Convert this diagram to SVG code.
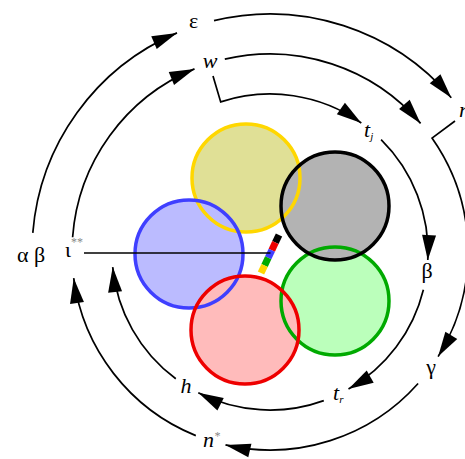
<svg xmlns="http://www.w3.org/2000/svg" width="465" height="459" viewBox="0 0 465 459">
<defs>
<marker id="ah" markerUnits="userSpaceOnUse" markerWidth="26" markerHeight="14" refX="25" refY="7" orient="auto" overflow="visible">
<path d="M0,0 L25,7 L0,14 z" fill="#000"/>
</marker>
<style>
.c{fill:none;stroke:#000;stroke-width:1.7}
.a{marker-end:url(#ah)}
.t{font-family:"Liberation Serif","DejaVu Serif",serif;font-size:22px;fill:#000}
.i{font-style:italic}
.s{font-size:11px}
.g{fill:#888;font-size:12px}
</style>
</defs>
<rect width="465" height="459" fill="#fff"/>
<g id="circles">
<g id="fills">
<circle cx="246" cy="178" r="54" fill="#e0e096"/>
<circle cx="335" cy="301" r="54" fill="#bbffbb"/>
<circle cx="189" cy="254" r="54" fill="#bbbbff"/>
<circle cx="245" cy="330" r="54" fill="#ffbbbb"/>
<circle cx="335" cy="206" r="54" fill="#b3b3b3"/>
</g>
<g id="strokes" fill="none">
<circle id="yellow" cx="246" cy="178" r="54" stroke="#ffd700" stroke-width="3.5"/>
<circle id="green" cx="335" cy="301" r="54" stroke="#00aa00" stroke-width="3.5"/>
<circle id="blue" cx="189" cy="254" r="54" stroke="#3f3fff" stroke-width="3.5"/>
<circle id="red" cx="245" cy="330" r="54" stroke="#ee0000" stroke-width="3.5"/>
<circle id="black" cx="335" cy="206" r="54" stroke="#000" stroke-width="3.5"/>
</g>
</g>
<g id="colorbar" stroke-width="7" fill="none">
<line x1="279" y1="235" x2="275.4" y2="242.6" stroke="#000"/>
<line x1="275.4" y1="242.6" x2="271.8" y2="250.2" stroke="#ee0000"/>
<line x1="271.8" y1="250.2" x2="268.2" y2="257.8" stroke="#3f3fff"/>
<line x1="268.2" y1="257.8" x2="264.6" y2="265.4" stroke="#00aa00"/>
<line x1="264.6" y1="265.4" x2="261" y2="273" stroke="#ffd700"/>
</g>
<g id="connectors">
<line class="c" x1="84" y1="253" x2="270.5" y2="253"/>
<path class="c a" d="M32.8,232.9 A238,238 0 0 1 177,32.9"/>
<path class="c a" d="M214,20.7 A238,238 0 0 1 451.3,97.8"/>
<path class="c a" d="M72.6,237.2 A198,198 0 0 1 194.5,68.9"/>
<path class="c a" d="M224.8,59.2 A198,198 0 0 1 420.6,123.4"/>
<path class="c a" d="M455,121 L432,138.1 A198,198 0 0 1 438.1,356.6"/>
<path class="c a" d="M418.1,383.5 A198,198 0 0 1 225.5,444.9"/>
<path class="c a" d="M195.8,435.6 A198,198 0 0 1 73.7,278.2"/>
<path class="c a" d="M213,76 L220.7,101.9 A158,158 0 0 1 361.3,123"/>
<path class="c a" d="M381.1,139.7 A158,158 0 0 1 427.8,260"/>
<path class="c a" d="M423.4,289.7 A158,158 0 0 1 348.5,389.1"/>
<path class="c a" d="M323.8,400.6 A158,158 0 0 1 198.3,392.8"/>
<path class="c a" d="M175.8,378.8 A158,158 0 0 1 112.7,267.1"/>
</g>
<g id="labels" class="t">
<g id="n-epsilon"><text class="t" x="193.5" y="28" text-anchor="middle" font-size="23">ε</text></g>
<g id="n-w"><text class="t i" x="210" y="68" text-anchor="middle">w</text></g>
<g id="n-tj"><text class="t i" x="364" y="137">t<tspan class="s" dy="3">j</tspan></text></g>
<g id="n-r"><text class="t i" x="459" y="117">r</text></g>
<g id="n-beta"><text class="t" x="427" y="278" text-anchor="middle">β</text></g>
<g id="n-gamma"><text class="t" x="431" y="374" text-anchor="middle">γ</text></g>
<g id="n-tr"><text class="t i" x="333" y="400">t<tspan class="s" dy="3">r</tspan></text></g>
<g id="n-h"><text class="t i" x="186" y="393" text-anchor="middle">h</text></g>
<g id="n-n"><text class="t i" x="203" y="447">n<tspan class="g" dy="-7">*</tspan></text></g>
<g id="n-iota"><text class="t" x="65" y="257" font-size="25">ι<tspan class="g" dy="-11">**</tspan></text></g>
<g id="n-ab"><text class="t" x="31" y="262" text-anchor="middle">α β</text></g>
</g>
</svg>
